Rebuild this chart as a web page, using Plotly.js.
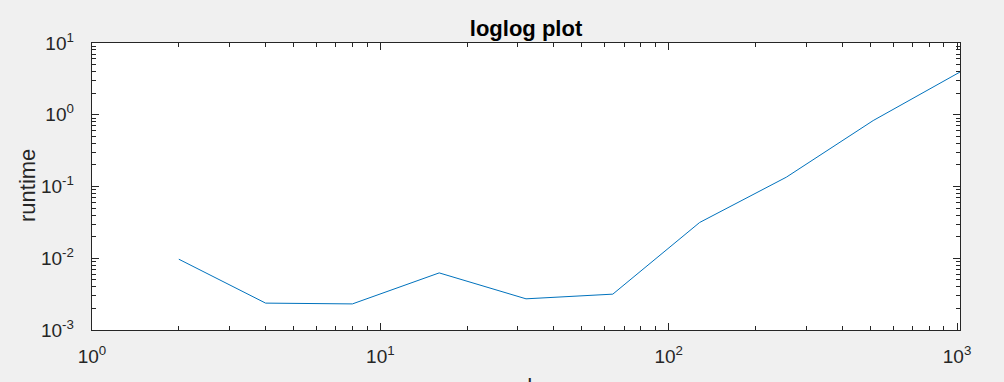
<!DOCTYPE html>
<html>
<head>
<meta charset="utf-8">
<script src="https://cdn.plot.ly/plotly-3.0.1.min.js"></script>
<style>html,body{margin:0;padding:0;background:#f0f0f0;}#chart{width:1004px;height:382px;}</style>
</head>
<body>
<div id="chart"></div>
<script>
const dValues = [2, 4, 8, 16, 32, 64, 128, 256, 512, 1024];
const runtimeValues = [0.0097, 0.00237, 0.00231, 0.00625, 0.00272, 0.00316, 0.0315, 0.135, 0.83, 3.94];
const xTickVals = [1, 10, 100, 1000];
const xTickText = ['10<sup>0</sup>', '10<sup>1</sup>', '10<sup>2</sup>', '10<sup>3</sup>'];
const yTickVals = [0.001, 0.01, 0.1, 1, 10];
const yTickText = ['10<sup>-3</sup>', '10<sup>-2</sup>', '10<sup>-1</sup>', '10<sup>0</sup>', '10<sup>1</sup>'];

const axisColor = '#262626';
const fontFam = '"Liberation Sans", Arial, Helvetica, sans-serif';

const trace = {
  x: dValues, y: runtimeValues, type: 'scatter', mode: 'lines',
  line: {color: '#0072BD', width: 1}, hoverinfo: 'skip'
};

const plotW = 1004 - 92 - 44;
const plotH = 382 - 43 - 52;

const layout = {
  width: 1004, height: 382,
  paper_bgcolor: '#f0f0f0', plot_bgcolor: '#ffffff',
  margin: {l: 92, r: 44, t: 43, b: 52, pad: 0},
  showlegend: false,
  title: {text: '<b>loglog plot</b>', font: {family: fontFam, size: 22, color: '#000000'}, x: 0.5, xref: 'paper', xanchor: 'center', y: 1 - 28 / 382, yref: 'container', yanchor: 'middle'},
  xaxis: {
    type: 'log', range: [0, Math.log10(1024)], tickmode: 'array', tickvals: xTickVals, ticktext: xTickText,
    showgrid: false, zeroline: false,
    showline: true, linecolor: axisColor, linewidth: 1.3, mirror: 'ticks',
    ticks: 'inside', ticklen: 7, tickcolor: axisColor, tickwidth: 1,
    minor: {ticks: 'inside', ticklen: 4, tickcolor: axisColor, tickwidth: 1, dtick: 'D1', showgrid: false},
    tickfont: {family: fontFam, size: 19, color: '#262626'}, ticklabelstandoff: 9
  },
  yaxis: {
    type: 'log', range: [-3, 1], tickmode: 'array', tickvals: yTickVals, ticktext: yTickText,
    showgrid: false, zeroline: false,
    showline: true, linecolor: axisColor, linewidth: 1.3, mirror: 'ticks',
    ticks: 'inside', ticklen: 7, tickcolor: axisColor, tickwidth: 1,
    minor: {ticks: 'inside', ticklen: 4, tickcolor: axisColor, tickwidth: 1, dtick: 'D1', showgrid: false},
    tickfont: {family: fontFam, size: 19, color: '#262626'}, ticklabelstandoff: 13
  },
  annotations: [{
    text: 'd', xref: 'paper', x: 0.5, yref: 'paper', y: -(372 - 330) / plotH,
    xanchor: 'center', yanchor: 'top', showarrow: false,
    font: {family: fontFam, size: 22, color: '#262626'}
  }, {
    text: 'runtime', xref: 'paper', x: (27 - 92) / plotW, yref: 'paper', y: 1 - (186 - 43) / plotH,
    xanchor: 'center', yanchor: 'middle', textangle: -90, showarrow: false,
    font: {family: fontFam, size: 22, color: '#262626'}
  }]
};

Plotly.newPlot('chart', [trace], layout, {staticPlot: true, displayModeBar: false});
</script>
</body>
</html>
